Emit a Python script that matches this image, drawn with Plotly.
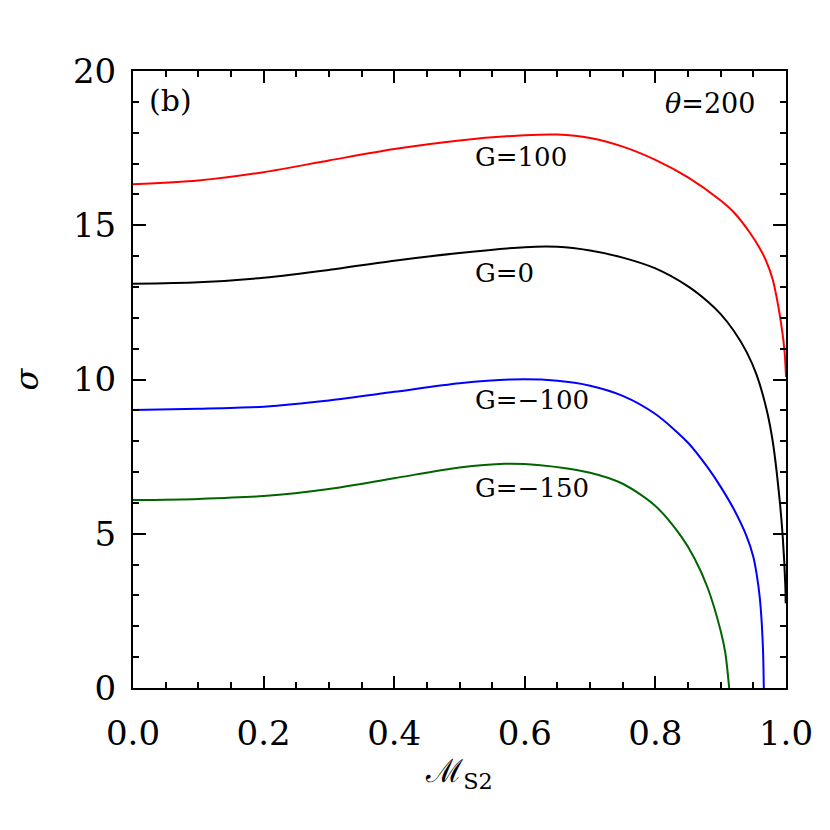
import plotly.graph_objects as go

# Data
m_g100 = [0.0, 0.1, 0.2, 0.3, 0.4, 0.5, 0.6, 0.65, 0.7, 0.75, 0.8, 0.85, 0.9, 0.92, 0.945, 0.96, 0.97, 0.98, 0.988, 0.994, 0.998, 1.0]
s_g100 = [16.33, 16.45, 16.72, 17.1, 17.47, 17.75, 17.92, 17.94, 17.83, 17.55, 17.12, 16.55, 15.8, 15.42, 14.75, 14.25, 13.82, 13.22, 12.4, 11.6, 10.86, 10.08]

m_g0 = [0.0, 0.1, 0.2, 0.3, 0.4, 0.5, 0.6, 0.65, 0.7, 0.75, 0.8, 0.85, 0.88, 0.9, 0.92, 0.94, 0.955, 0.97, 0.98, 0.99, 0.995, 0.999, 0.9995]
s_g0 = [13.1, 13.15, 13.3, 13.55, 13.85, 14.1, 14.29, 14.3, 14.18, 13.95, 13.6, 13.02, 12.53, 12.12, 11.58, 10.88, 10.15, 9.05, 7.95, 6.15, 4.9, 3.3, 2.75]

m_gm100 = [0.0, 0.1, 0.2, 0.3, 0.4, 0.5, 0.58, 0.65, 0.7, 0.75, 0.8, 0.85, 0.88, 0.9, 0.92, 0.94, 0.95, 0.955, 0.96, 0.963, 0.965, 0.966]
s_gm100 = [9.01, 9.05, 9.12, 9.32, 9.6, 9.88, 10.0, 9.96, 9.8, 9.47, 8.88, 7.95, 7.15, 6.52, 5.8, 4.9, 4.25, 3.7, 2.9, 2.05, 1.1, 0.0]

m_gm150 = [0.0, 0.1, 0.2, 0.3, 0.4, 0.5, 0.57, 0.62, 0.7, 0.75, 0.8, 0.84, 0.86, 0.88, 0.9, 0.907, 0.913]
s_gm150 = [6.09, 6.13, 6.22, 6.45, 6.8, 7.15, 7.27, 7.23, 6.98, 6.62, 5.9, 4.9, 4.2, 3.25, 1.85, 1.15, 0.0]

series = [
    ("G=100", m_g100, s_g100, "#ff0000", 17.2),
    ("G=0", m_g0, s_g0, "#000000", 13.45),
    ("G=\u2212100", m_gm100, s_gm100, "#0000ff", 9.33),
    ("G=\u2212150", m_gm150, s_gm150, "#006400", 6.48),
]

font_family = "DejaVu Serif, Liberation Serif, serif"

fig = go.Figure()
for name, xs, ys, color, ly in series:
    fig.add_trace(go.Scatter(x=xs, y=ys, mode="lines", name=name,
                             line=dict(color=color, width=2, shape="spline", smoothing=0.8),
                             showlegend=False))
    fig.add_annotation(x=0.52, y=ly, text=name, showarrow=False, xanchor="left",
                       yanchor="middle", font=dict(size=26, color="black", family=font_family))

fig.add_annotation(x=0.022, y=19.05, text="(b)", showarrow=False, xanchor="left", yanchor="middle",
                   font=dict(size=30, color="black", family=font_family))
fig.add_annotation(x=0.955, y=18.96, text="<i>\u03b8</i>=200", showarrow=False, xanchor="right",
                   yanchor="middle", font=dict(size=27, color="black", family=font_family))

axis_common = dict(showgrid=False, zeroline=False, showline=True, linecolor="black", linewidth=2,
                   mirror="ticks", ticks="inside", tickcolor="black", tickwidth=1.5,
                   tickfont=dict(size=34, color="black", family=font_family))

fig.update_xaxes(range=[0, 1.0], dtick=0.2, tickformat=".1f", ticklen=12, ticklabelstandoff=14,
                 minor=dict(dtick=0.05, ticks="inside", ticklen=6, tickcolor="black", tickwidth=1.5),
                 title=dict(text="\u2133<sub>S2</sub>", font=dict(size=32, color="black", family=font_family),
                            standoff=8),
                 **axis_common)
fig.update_yaxes(range=[0, 20], dtick=5, ticklen=13, ticklabelstandoff=8,
                 minor=dict(dtick=1, ticks="inside", ticklen=6, tickcolor="black", tickwidth=1.5),
                 title=dict(text="<i>\u03c3</i>", font=dict(size=32, color="black", family=font_family),
                            standoff=30),
                 **axis_common)

fig.update_layout(width=830, height=830, plot_bgcolor="white", paper_bgcolor="white",
                  margin=dict(l=125, r=52, t=63, b=150))

fig.write_html("out.html")
